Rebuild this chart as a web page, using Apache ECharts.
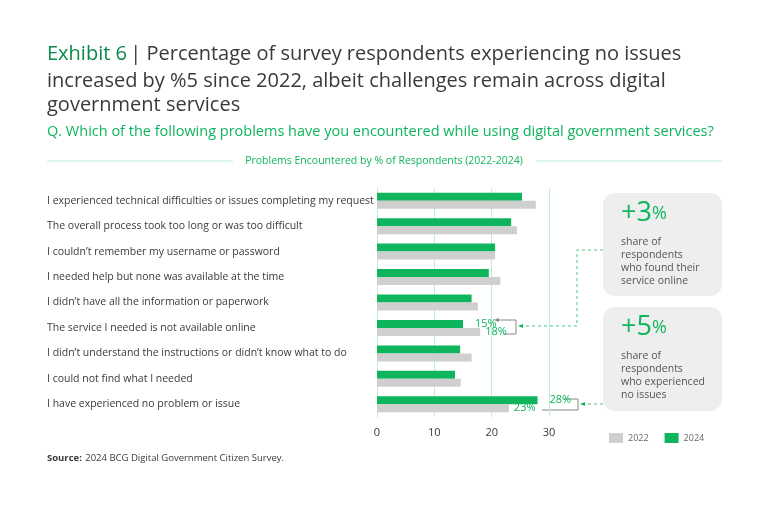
<!DOCTYPE html>
<html><head><meta charset="utf-8">
<script src="https://cdn.jsdelivr.net/npm/echarts@6/dist/echarts.min.js"></script>
<style>html,body{margin:0;padding:0;background:#fff}#c{width:768px;height:530px}</style>
</head><body><div id="c"></div>
<script>
const categories = [
 "I experienced technical difficulties or issues completing my request",
 "The overall process took too long or was too difficult",
 "I couldn’t remember my username or password",
 "I needed help but none was available at the time",
 "I didn’t have all the information or paperwork",
 "The service I needed is not available online",
 "I didn’t understand the instructions or didn’t know what to do",
 "I could not find what I needed",
 "I have experienced no problem or issue"
];
const values2024 = [25.3, 23.4, 20.6, 19.5, 16.5, 15, 14.5, 13.6, 28];
const values2022 = [27.7, 24.4, 20.6, 21.5, 17.6, 18, 16.5, 14.6, 23];
const xTicks = [0, 10, 20, 30];
const labelled = {5: true, 8: true};

const GREEN = '#0fb55d', GRAY = '#cfcfcf', TXT = '#3a3a3a';
const chart = echarts.init(document.getElementById('c'));
function mk(vals, name, color){
  return {
    name, type:'bar', barWidth:8, barGap:'0%', barCategoryGap:'35%',
    itemStyle:{color},
    data: vals.map((v,i)=> labelled[i] ? {value:v, label:{show:true, position:'right', distance:name==='2024'?12:5, formatter:Math.round(v)+'%', color:GREEN, fontSize:11, fontFamily:'Open Sans'}} : v)
  };
}
const dash = {stroke:'#49c77f', lineWidth:1, lineDash:[3,3]};
const bk = {stroke:'#888', lineWidth:1};
chart.setOption({
  animation:false,
  textStyle:{fontFamily:'Open Sans'},
  grid:{left:377, right:219, top:188, bottom:113},
  xAxis:{type:'value', min:0, max:30, interval:10,
    axisLine:{show:false}, axisTick:{show:false},
    axisLabel:{color:TXT, fontSize:11, margin:10},
    splitLine:{lineStyle:{color:'#bfeee0'}}},
  yAxis:{type:'category', data:categories, inverse:true,
    axisLine:{show:true, lineStyle:{color:'#bfeee0'}}, axisTick:{show:false},
    axisLabel:{color:TXT, fontSize:10.5, align:'left', margin:330}},
  legend:{data:['2022','2024'], left:604, top:428, itemWidth:14, itemHeight:10, itemGap:16,
    icon:'rect', textStyle:{color:'#666', fontSize:9}},
  series:[mk(values2024,'2024',GREEN), mk(values2022,'2022',GRAY)],
  graphic:[
    {type:'text', left:47, top:44, style:{rich:{g:{fill:'#0a8a4a',fontSize:20,fontFamily:'Open Sans'},t:{fill:'#3a3a3a',fontSize:20,fontFamily:'Open Sans',lineHeight:24}}, text:'{g|Exhibit 6} {t|| Percentage of survey respondents experiencing no issues}', fill:'#3a3a3a'}},
    {type:'text', left:47, top:69, style:{text:'increased by %5 since 2022, albeit challenges remain across digital\ngovernment services', fill:'#3a3a3a', fontSize:20, lineHeight:24, fontFamily:'Open Sans'}},
    {type:'text', left:47, top:124, style:{text:'Q. Which of the following problems have you encountered while using digital government services?', fill:GREEN, fontSize:14.5, fontFamily:'Open Sans'}},
    {type:'line', shape:{x1:47,y1:161,x2:233,y2:161}, style:{stroke:'#bfeee0'}},
    {type:'line', shape:{x1:536,y1:161,x2:722,y2:161}, style:{stroke:'#bfeee0'}},
    {type:'text', x:384, y:161, style:{text:'Problems Encountered by % of Respondents (2022-2024)', fill:GREEN, fontSize:10.5, align:'center', verticalAlign:'middle', fontFamily:'Open Sans'}},
    {type:'rect', shape:{x:603,y:193,width:119,height:103,r:12}, style:{fill:'#eeeeee'}},
    {type:'rect', shape:{x:603,y:307,width:119,height:104,r:12}, style:{fill:'#eeeeee'}},
    {type:'text', left:621, top:200, style:{rich:{b:{fontSize:27,fill:GREEN,fontFamily:'Open Sans'},s:{fontSize:18,fill:GREEN,fontFamily:'Open Sans'}}, text:'{b|+3}{s|%}'}},
    {type:'text', left:621, top:236, style:{text:'share of\nrespondents\nwho found their\nservice online', fill:'#555', fontSize:10.5, lineHeight:13, fontFamily:'Open Sans'}},
    {type:'text', left:621, top:314, style:{rich:{b:{fontSize:27,fill:GREEN,fontFamily:'Open Sans'},s:{fontSize:18,fill:GREEN,fontFamily:'Open Sans'}}, text:'{b|+5}{s|%}'}},
    {type:'text', left:621, top:350, style:{text:'share of\nrespondents\nwho experienced\nno issues', fill:'#555', fontSize:10.5, lineHeight:13, fontFamily:'Open Sans'}},
    {type:'polyline', shape:{points:[[497,320],[516,320],[516,334],[504,334]]}, style:bk},
    {type:'polygon', shape:{points:[[494,320],[499,318],[499,322]]}, style:{fill:'#888'}},
    {type:'polyline', shape:{points:[[520,326],[577,326],[577,250],[603,250]]}, style:dash},
    {type:'polygon', shape:{points:[[518,326],[523,324],[523,328]]}, style:{fill:GREEN}},
    {type:'polyline', shape:{points:[[564,399],[578,399],[578,410],[542,410]]}, style:bk},
    {type:'polyline', shape:{points:[[582,404],[603,404]]}, style:dash},
    {type:'polygon', shape:{points:[[580,404],[585,402],[585,406]]}, style:{fill:GREEN}},
    {type:'text', left:47, top:452, style:{rich:{b:{fontWeight:'bold',fill:'#3a3a3a',fontSize:9.5,fontFamily:'Open Sans'},n:{fill:'#3a3a3a',fontSize:9.5,fontFamily:'Open Sans'}}, text:'{b|Source:} {n|2024 BCG Digital Government Citizen Survey.}'}}
  ]
});
</script></body></html>
